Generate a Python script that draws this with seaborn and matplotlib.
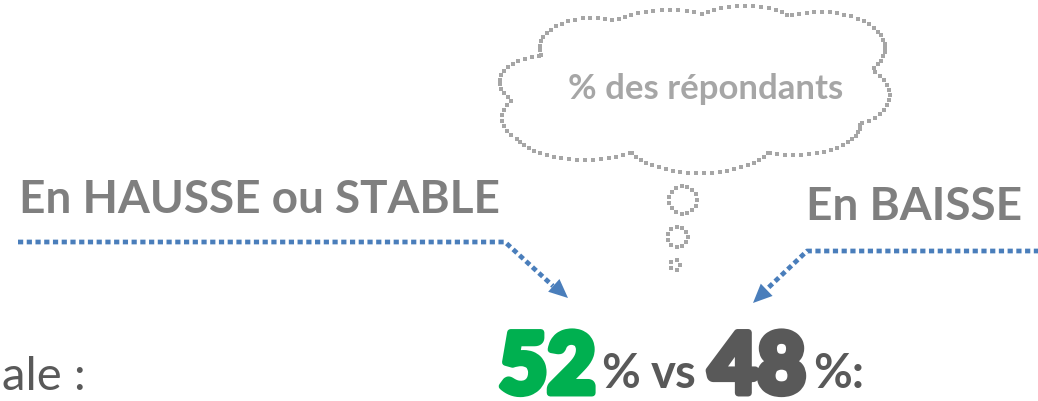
import numpy as np
import pandas as pd
import matplotlib
matplotlib.use("Agg")
import matplotlib.pyplot as plt
import matplotlib.patheffects as pe
import seaborn as sns
from matplotlib.patches import Polygon

# ---- data ----
categories = ["En HAUSSE ou STABLE", "En BAISSE"]
shares = [52, 48]
cloud_label = "% des répondants"
left_fragment = "ale :"

# ---- style ----
sns.set_theme(style="white")
plt.rcParams['font.family'] = ['Lato', 'DejaVu Sans']

GREY = "#7f7f7f"
CLOUD = "#a6a6a6"
BLUE = "#4a7ebb"
GREEN = "#00b050"
DARK = "#595959"

W, H = 1038, 401
fig = plt.figure(figsize=(W / 100, H / 100), dpi=100)
ax = fig.add_axes([0, 0, 1, 1])
ax.set_xlim(0, W)
ax.set_ylim(H, 0)
ax.axis("off")

# ---- cloud outline (dotted) ----
lobes = [
    (545, 82, 45, 26),
    (592, 48, 52, 30),
    (668, 32, 60, 22),
    (745, 27, 52, 21),
    (820, 48, 65, 36),
    (848, 95, 42, 30),
    (795, 125, 65, 30),
    (700, 135, 78, 38),
    (585, 128, 72, 32),
    (532, 118, 30, 24),
    (700, 85, 160, 55),
]


def outline(lobes, spacing=5.0):
    xs, ys = [], []
    for i, (cx, cy, rx, ry) in enumerate(lobes):
        n = int(2 * np.pi * np.sqrt((rx ** 2 + ry ** 2) / 2) / spacing)
        t = np.linspace(0, 2 * np.pi, n, endpoint=False)
        x = cx + rx * np.cos(t)
        y = cy + ry * np.sin(t)
        keep = np.ones(n, bool)
        for j, (cx2, cy2, rx2, ry2) in enumerate(lobes):
            if i == j:
                continue
            keep &= ((x - cx2) / rx2) ** 2 + ((y - cy2) / ry2) ** 2 >= 1
        xs.append(x[keep])
        ys.append(y[keep])
    return np.concatenate(xs), np.concatenate(ys)


cx_, cy_ = outline(lobes, spacing=6.2)
bubbles = [(683, 200, 14, 14), (678, 237, 10, 10), (675, 265, 5, 5)]
for b in bubbles:
    bx, by = outline([b], spacing=5.5)
    cx_ = np.concatenate([cx_, bx])
    cy_ = np.concatenate([cy_, by])
cloud_df = pd.DataFrame({"x": cx_, "y": cy_})
sns.scatterplot(data=cloud_df, x="x", y="y", ax=ax, marker="s", s=5,
                color=CLOUD, linewidth=0, legend=False)

ax.text(706, 89, cloud_label, color=CLOUD, fontsize=25, fontweight="bold",
        ha="center", va="center")

# ---- category headers ----
ax.text(19, 213, categories[0], color=GREY, fontsize=33, fontweight="bold",
        ha="left", va="baseline")
ax.text(1022, 220, categories[1], color=GREY, fontsize=33, fontweight="bold",
        ha="right", va="baseline")

# ---- dotted arrows ----
arrows = [
    dict(x=[18, 505, 553], y=[242, 242, 286], tip=(568, 298)),
    dict(x=[1040, 807, 768], y=[251, 251, 288], tip=(753, 303)),
]
for a in arrows:
    df = pd.DataFrame({"x": a["x"], "y": a["y"]})
    sns.lineplot(data=df, x="x", y="y", ax=ax, sort=False, color=BLUE,
                 lw=3.4, linestyle=(0, (1.1, 0.75)), legend=False)
    tx, ty = a["tip"]
    dx, dy = tx - a["x"][-2], ty - a["y"][-2]
    L = np.hypot(dx, dy)
    ux, uy = dx / L, dy / L
    px, py = -uy, ux
    hl, hw = 19, 8.5
    bx, by = tx - ux * hl, ty - uy * hl
    ax.add_patch(Polygon([(tx, ty), (bx + px * hw, by + py * hw),
                          (bx - px * hw, by - py * hw)], closed=True,
                         color=BLUE, lw=0))

# ---- bottom line ----
ax.text(2, 390, left_fragment, color=DARK, fontsize=34, ha="left",
        va="baseline")
ax.text(499, 393, f"{shares[0]}", color=GREEN, fontsize=60,
        fontweight="black", ha="left", va="baseline",
        path_effects=[pe.withStroke(linewidth=5, foreground=GREEN)])
ax.text(601, 388, "%", color=DARK, fontsize=34, fontweight="bold",
        ha="left", va="baseline")
ax.text(651, 388, "vs", color=DARK, fontsize=34, fontweight="bold",
        ha="left", va="baseline")
ax.text(709, 393, f"{shares[1]}", color=DARK, fontsize=60,
        fontweight="black", ha="left", va="baseline",
        path_effects=[pe.withStroke(linewidth=5, foreground=DARK)])
ax.text(813, 388, "%:", color=DARK, fontsize=34, fontweight="bold",
        ha="left", va="baseline")

fig.savefig("out.png", dpi=100)
